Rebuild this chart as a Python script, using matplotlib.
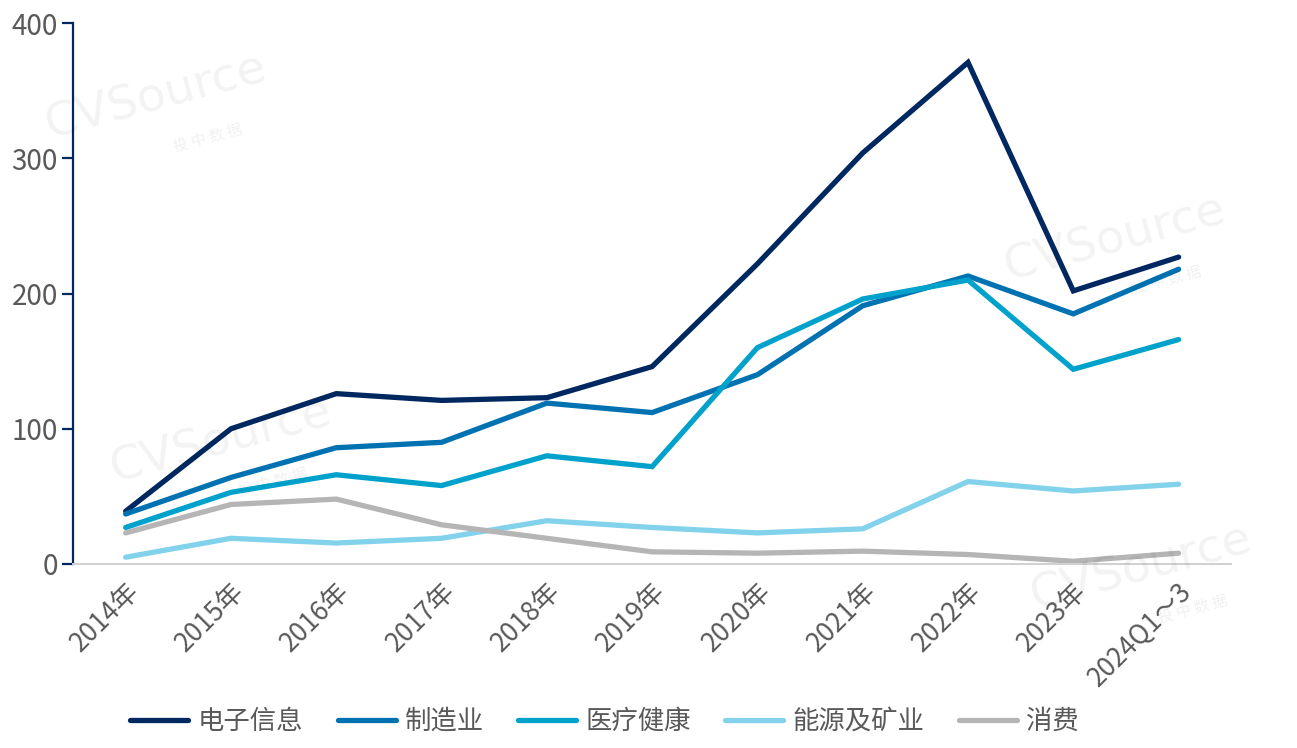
import matplotlib
matplotlib.use("Agg")
import matplotlib.pyplot as plt

plt.rcParams['font.family'] = ['Noto Sans CJK SC', 'DejaVu Sans']

categories = ["2014年", "2015年", "2016年", "2017年", "2018年", "2019年",
              "2020年", "2021年", "2022年", "2023年", "2024Q1～3"]
dianzi = [39, 100, 126, 121, 123, 146, 222, 304, 371, 202, 227]
zhizao = [37, 64, 86, 90, 119, 112, 140, 191, 213, 185, 218]
yiliao = [27, 53, 66, 58, 80, 72, 160, 196, 210, 144, 166]
nengyuan = [5, 19, 15.5, 19, 32, 27, 23, 26, 61, 54, 59]
xiaofei = [23, 44, 48, 29, 19, 9, 8, 9.5, 7, 2, 8]

series = [
    ("电子信息", dianzi, "#002860"),
    ("制造业", zhizao, "#0072b2"),
    ("医疗健康", yiliao, "#00a2cc"),
    ("能源及矿业", nengyuan, "#82d2ec"),
    ("消费", xiaofei, "#b5b5b5"),
]

fig = plt.figure(figsize=(12.97, 7.48), dpi=100)
ax = fig.add_axes([0.0563, 0.246, 0.893, 0.723])

# watermarks
for x, y in [(0.12, 0.87), (0.17, 0.41), (0.86, 0.68), (0.88, 0.24)]:
    fig.text(x, y, "CVSource", fontsize=34, color="#000000", alpha=0.05,
             rotation=15, ha="center", va="center", family="DejaVu Sans")
    fig.text(x + 0.04, y - 0.055, "投 中 数 据", fontsize=11, color="#000000",
             alpha=0.06, rotation=15, ha="center", va="center")

x = list(range(len(categories)))
for name, vals, c in series:
    ax.plot(x, vals, color=c, lw=3.8, label=name, solid_capstyle="round",
            solid_joinstyle="miter")

ax.set_xlim(-0.5, len(categories) - 0.5)
ax.set_ylim(0, 400)
ax.set_yticks([0, 100, 200, 300, 400])
ax.set_xticks(x)
ax.set_xticklabels(categories, rotation=45, ha="right", rotation_mode="anchor")

for s in ["top", "right"]:
    ax.spines[s].set_visible(False)
ax.spines["left"].set_color("#002860")
ax.spines["left"].set_linewidth(1.6)
ax.spines["bottom"].set_color("#d0d0d0")
ax.spines["bottom"].set_linewidth(1.4)
ax.tick_params(axis="y", colors="#002860", length=8, width=1.6, labelsize=20,
               labelcolor="#595959", pad=3)
ax.tick_params(axis="x", length=0, labelsize=19, labelcolor="#595959", pad=10)

ax.legend(loc="lower center", bbox_to_anchor=(0.459, -0.36), ncol=5,
          frameon=False, fontsize=19, handlelength=2.2, columnspacing=1.3,
          handletextpad=0.35, labelcolor="#595959")

fig.savefig("out.png", dpi=100)
